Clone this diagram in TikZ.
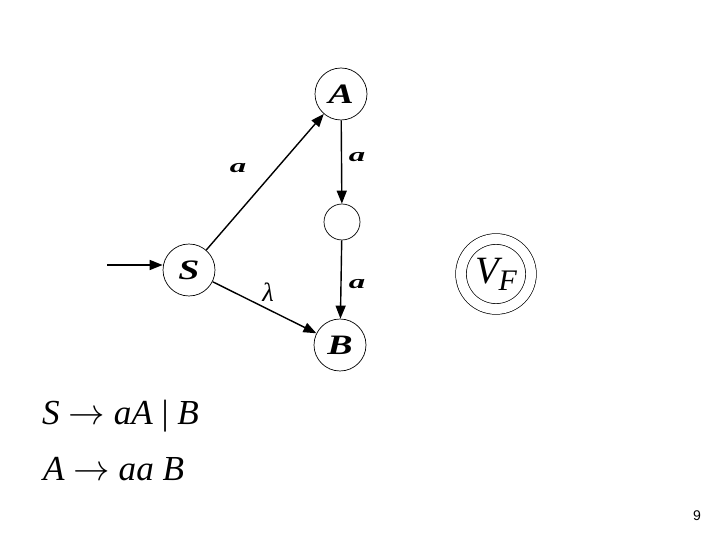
\documentclass[tikz,border=0pt]{standalone}
\usepackage{fontspec}
\setmainfont{Liberation Serif}
\newfontfamily\pagefont{Liberation Sans}
\usetikzlibrary{arrows.meta, positioning}
\newcommand{\widen}[1]{\scalebox{1.35}[1]{#1}}

\begin{document}
\begin{tikzpicture}[
    x=0.02cm, y=-0.02cm,
    state/.style = {circle, draw, thin, minimum size=1.04cm, inner sep=0pt, font=\fontsize{16}{16}\selectfont\bfseries\itshape},
    hole/.style = {circle, draw, thin, minimum size=0.72cm, inner sep=0pt},
    final/.style = {circle, draw, thin, double, double distance=0.2cm, minimum size=1.4cm, inner sep=0pt, font=\fontsize{22}{22}\selectfont\itshape},
    lbl/.style = {font=\fontsize{11}{11}\selectfont\bfseries\itshape},
    rule/.style = {anchor=west, font=\fontsize{20}{20}\selectfont\itshape},
    line/.style = {draw, -{Triangle[length=2.6mm, width=2mm]}, line width=0.8pt}
]
    \useasboundingbox (0,0) rectangle (720,540);

    % Nodes - States
    \node (A) [state] at (341,94) {\widen{A}};
    \node (mid) [hole] at (342,222) {};
    \node (S) [state] at (189,270) {\widen{S}};
    \node (B) [state] at (340,345) {\widen{B}};
    \node (vf) [final] at (496,274) {V\raisebox{-0.4ex}{\fontsize{17}{17}\selectfont F}};
    \coordinate (in) at (107,265);

    % Grammar
    \node (r1) [rule] at (36,416) {S $\rightarrow$ aA {\upshape|} B};
    \node (r2) [rule] at (37,469) {A $\rightarrow$ aa B};

    % Page number
    \node (pg) [font=\pagefont\fontsize{8}{8}\selectfont] at (697,516) {9};

    % Edges
    \path [line] (in) -- (in -| S.west);
    \path [line] (S) -- (A);
    \path [line] (S) -- (B);
    \path [line] (A) -- (mid);
    \path [line] (mid) -- (B);

    % Edge labels
    \node [lbl] at (238,168) {\scalebox{1.7}[1]{a}};
    \node [lbl] at (357,157) {\scalebox{1.7}[1]{a}};
    \node [lbl] at (357,284) {\scalebox{1.7}[1]{a}};
    \node [lbl, font=\fontsize{15}{15}\selectfont\itshape] at (268,292) {λ};
\end{tikzpicture}
\end{document}
